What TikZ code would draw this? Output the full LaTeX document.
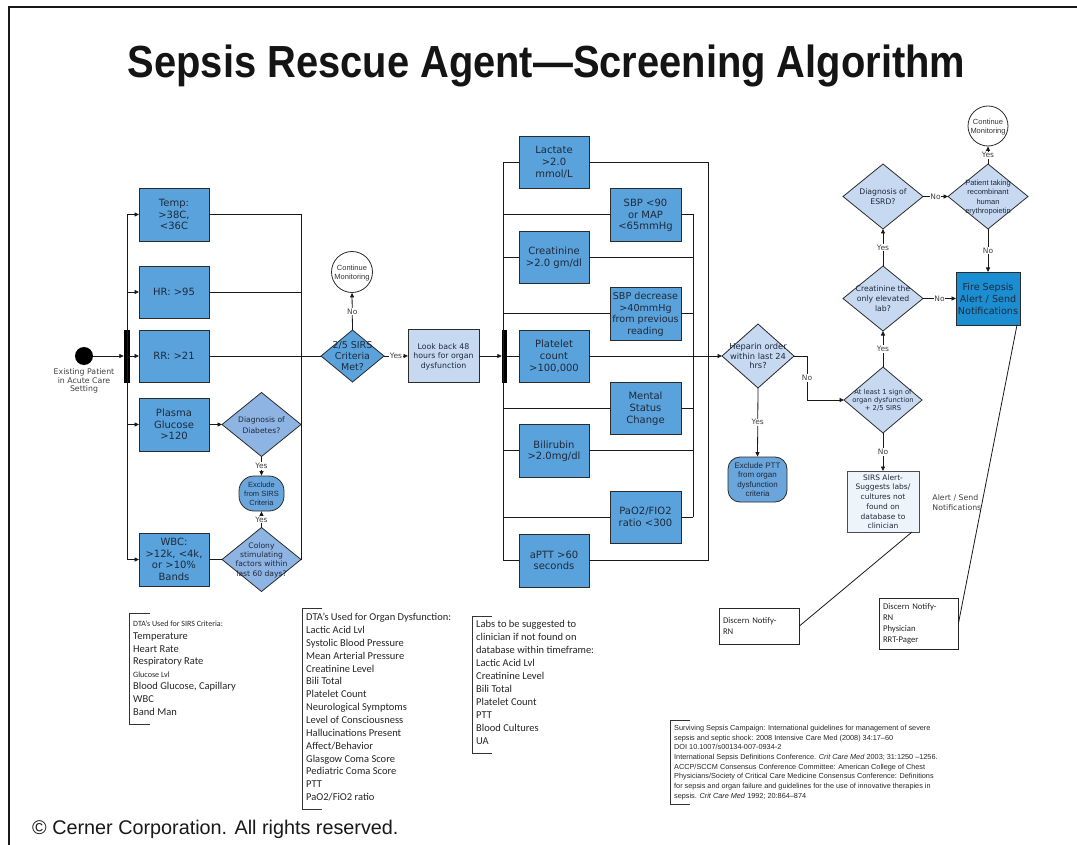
\documentclass[tikz,border=0pt]{standalone}
\usepackage{fontspec}
\usepackage{graphicx}
\setmainfont{DejaVu Sans}
\newfontfamily\dv{DejaVu Sans}
\newfontfamily\lib{Liberation Sans}
\newfontfamily\carl{Carlito}
\usetikzlibrary{shapes.geometric,arrows.meta,calc}
\definecolor{boxblue}{HTML}{5AA2DB}
\definecolor{midblue}{HTML}{8EB4E3}
\definecolor{lightblue}{HTML}{C6D9F1}
\definecolor{firebl}{HTML}{1B8ED1}
\definecolor{palebl}{HTML}{EEF4FB}
\definecolor{exclbl}{HTML}{6AA6DC}
\definecolor{txtc}{HTML}{1F2A3A}
\definecolor{edgec}{HTML}{2B2B2B}
\newcommand\ctxt[1]{\raisebox{-0.38em}[0pt][0pt]{\makebox[0pt]{\begin{tabular}{@{}c@{}}#1\end{tabular}}}}
\newcommand\fsz[2]{\fontsize{#1}{#2}\selectfont}
\begin{document}
\begin{tikzpicture}[x=1pt,y=-1pt,
  bx/.style={draw=edgec, line width=0.8pt, fill=boxblue, inner sep=0pt, outer sep=0pt, text=txtc, font={\dv\fsz{10}{11.7}}},
  dm/.style={diamond, draw=edgec, line width=0.8pt, inner sep=0pt, outer sep=0pt, text=txtc, font={\dv\fsz{7.6}{9.5}}},
  ln/.style={draw=black!90, line width=0.8pt},
  arr/.style={ln, -{Triangle[length=4.5pt,width=4pt]}},
  lbl/.style={font={\dv\fsz{7.5}{9}}, text=black!75, fill=white, inner sep=0.8pt},
  brk/.style={draw=black!80, line width=0.8pt},
  circ/.style={circle, draw=edgec, line width=0.8pt, fill=white, inner sep=0pt, font={\lib\fsz{7.5}{9.5}}, text=black!80}
]
\useasboundingbox (0,0) rectangle (1077,845);
\fill[white] (0,0) rectangle (1077,845);
% frame
\draw[line width=2pt, black!90] (9,846) -- (9,7) -- (1078,7);
% title
\node[anchor=base, inner sep=0pt, font={\lib\bfseries\fsz{45}{50}}, text=black!92] (title) at (546.5,78) {\scalebox{0.886}[1]{Sepsis Rescue Agent—Screening Algorithm}};
\node[anchor=base west, inner sep=0pt, font={\lib\fsz{19.8}{22}}, text=black!90] (copy) at (32,834) {© Cerner Corporation. All rights reserved.};

% ---------- SIRS section
\node[circle, fill=black, minimum size=18pt, inner sep=0pt] (start) at (84,356) {};
\node[font={\dv\fsz{7.8}{8.7}}, text=black!75, align=center, inner sep=0pt] (startlbl) at (84,381) {Existing Patient\\in Acute Care\\Setting};
\node[fill=black, minimum width=6pt, minimum height=53pt, inner sep=0pt] (bar1) at (127,356) {};

\node[bx, minimum width=70pt, minimum height=53pt] (temp) at (174,214.5) {\ctxt{Temp:\\>38C,\\<36C}};
\node[bx, minimum width=70pt, minimum height=52pt] (hr) at (174,292) {\ctxt{HR: >95}};
\node[bx, minimum width=70pt, minimum height=52pt] (rr) at (174,356) {\ctxt{RR: >21}};
\node[bx, minimum width=70pt, minimum height=53pt] (plasma) at (174,424.5) {\ctxt{Plasma\\Glucose\\>120}};
\node[bx, minimum width=70pt, minimum height=53pt] (wbc) at (174,559.5) {\ctxt{WBC:\\>12k, <4k,\\or >10\%\\Bands}};

\node[dm, fill=midblue, minimum width=79pt, minimum height=64pt, font={\dv\fsz{7.6}{11}}] (diab) at (261.5,424.5) {\ctxt{Diagnosis of\\Diabetes?}};
\node[dm, fill=midblue, minimum width=79pt, minimum height=64pt, font={\dv\fsz{7.6}{9.3}}] (colony) at (261.5,559.5) {\ctxt{Colony\\stimulating\\factors within\\last 60 days?}};
\node[draw=edgec, line width=0.8pt, fill=exclbl, rounded corners=15pt, minimum width=45pt, minimum height=35pt, inner sep=0pt, font={\lib\fsz{7.5}{9.2}}, text=txtc] (excl1) at (261.5,493.5) {\ctxt{Exclude\\from SIRS\\Criteria}};

\node[dm, fill=boxblue, minimum width=63pt, minimum height=52pt, font={\dv\fsz{9.5}{11.3}}] (sirs) at (352.5,356) {\ctxt{2/5 SIRS\\Criteria\\Met?}};
\node[circ, minimum size=41pt] (cont1) at (352,272) {\ctxt{Continue\\Monitoring}};
\node[bx, fill=lightblue, minimum width=71pt, minimum height=53pt, font={\dv\fsz{7.8}{9.7}}] (look) at (443.5,356) {\ctxt{Look back 48\\hours for organ\\dysfunction}};
\node[fill=black, minimum width=5pt, minimum height=53pt, inner sep=0pt] (bar2) at (504.5,356) {};

\draw[arr] (start) -- (start -| bar1.west);
\draw[ln] (bar1.center |- temp.west) -- (bar1.center |- wbc.west);
\foreach \n in {temp,hr,rr,plasma,wbc} \draw[arr] (bar1.center |- \n.west) -- (\n.west);
\coordinate (vr) at (301,356);
\draw[ln] (vr |- temp.east) -- (vr |- wbc.east);
\draw[ln] (temp.east) -- (temp.east -| vr);
\draw[ln] (hr.east) -- (hr.east -| vr);
\draw[ln] (rr.east) -- (sirs.west);
\draw[arr] (plasma.east) -- (diab.west);
\draw[ln] (wbc.east) -- (colony.west);
\draw[arr] (diab.south) -- node[lbl]{Yes} (excl1.north);
\draw[arr] (colony.north) -- node[lbl]{Yes} (excl1.south);
\draw[arr] (sirs.north) -- node[lbl]{No} (cont1.south);
\draw[arr] (sirs.east) -- node[lbl]{Yes} (look.west);
\draw[arr] (look.east) -- (look.east -| bar2.west);

% ---------- organ dysfunction section
\node[bx, minimum width=70pt, minimum height=52pt] (lact) at (554,162) {\ctxt{Lactate\\>2.0\\mmol/L}};
\node[bx, minimum width=70pt, minimum height=52pt] (creat) at (554,257) {\ctxt{Creatinine\\>2.0 gm/dl}};
\node[bx, minimum width=70pt, minimum height=52pt] (plt) at (554,356) {\ctxt{Platelet\\count\\>100,000}};
\node[bx, minimum width=70pt, minimum height=53pt] (bili) at (554,450.5) {\ctxt{Bilirubin\\>2.0mg/dl}};
\node[bx, minimum width=70pt, minimum height=53pt] (aptt) at (554,560.5) {\ctxt{aPTT >60\\seconds}};
\node[bx, minimum width=71pt, minimum height=53pt] (sbp1) at (645.5,214.5) {\ctxt{SBP <90\\or MAP\\<65mmHg}};
\node[bx, minimum width=71pt, minimum height=53pt, font={\dv\fsz{9.6}{11.7}}] (sbp2) at (645.5,313.5) {\ctxt{SBP decrease\\>40mmHg\\from previous\\reading}};
\node[bx, minimum width=71pt, minimum height=52pt] (ment) at (645.5,408) {\ctxt{Mental\\Status\\Change}};
\node[bx, minimum width=71pt, minimum height=52pt] (pao) at (645.5,517) {\ctxt{PaO2/FIO2\\ratio <300}};

\coordinate (vl) at (503,356);
\coordinate (vi) at (693,356);
\coordinate (vo) at (708,356);
\draw[ln] (vl |- lact.west) -- (vl |- aptt.west);
\foreach \n in {lact,creat,bili,aptt,sbp1,sbp2,ment,pao} \draw[ln] (vl |- \n.west) -- (\n.west);
\draw[ln] (bar2.east |- plt.west) -- (plt.west);
\draw[ln] (vi |- sbp1.east) -- (vi |- pao.east);
\foreach \n in {creat,bili,sbp1,sbp2,ment,pao} \draw[ln] (\n.east) -- (\n.east -| vi);
\draw[ln] (vo |- lact.east) -- (vo |- aptt.east);
\draw[ln] (lact.east) -- (lact.east -| vo);
\draw[ln] (aptt.east) -- (aptt.east -| vo);

% ---------- decision section
\node[dm, fill=lightblue, minimum width=72pt, minimum height=64pt, font={\dv\fsz{8.3}{9.5}}] (hep) at (758,356) {\ctxt{Heparin order\\within last 24\\hrs?}};
\node[draw=edgec, line width=0.8pt, fill=exclbl, rounded corners=12pt, minimum width=59pt, minimum height=45pt, inner sep=0pt, font={\lib\fsz{8}{9.5}}, text=txtc] (exptt) at (757.5,479.5) {\ctxt{Exclude PTT\\from organ\\dysfunction\\criteria}};
\node[dm, fill=lightblue, minimum width=78pt, minimum height=66pt, font={\dv\fsz{6.8}{7.8}}] (atl) at (883,400) {\ctxt{At least 1 sign of\\organ dysfunction\\+ 2/5 SIRS}};
\node[bx, fill=palebl, draw=black!70, minimum width=72pt, minimum height=61pt, font={\dv\fsz{7.5}{9.7}}] (sirsal) at (883,501.5) {\ctxt{SIRS Alert-\\Suggests labs/\\cultures not\\found on\\database to\\clinician}};
\node[dm, fill=lightblue, minimum width=80pt, minimum height=65pt, font={\dv\fsz{7.7}{9.7}}] (crl) at (883,298.5) {\ctxt{Creatinine the\\only elevated\\lab?}};
\node[dm, fill=lightblue, minimum width=80pt, minimum height=65pt, font={\dv\fsz{7.7}{10.7}}] (esrd) at (883,196.5) {\ctxt{Diagnosis of\\ESRD?}};
\node[dm, fill=lightblue, minimum width=80pt, minimum height=65pt, font={\lib\fsz{7.5}{9.5}}] (pat) at (988,196.5) {\ctxt{Patient taking\\recombinant\\human\\erythropoietin}};
\node[circ, minimum size=40pt] (cont2) at (988,126) {\ctxt{Continue\\Monitoring}};
\node[bx, fill=firebl, minimum width=64pt, minimum height=53pt, font={\dv\fsz{9.6}{12}}] (fire) at (988,298.5) {\ctxt{Fire Sepsis\\Alert / Send\\Notifications}};

\draw[arr] (plt.east) -- (hep.west);
\draw[arr] (hep.east) -- ++(13,0) |- node[lbl,pos=0.25]{No} (atl.west);
\draw[arr] (hep.south) -- node[lbl]{Yes} (exptt.north);
\draw[arr] (atl.north) -- node[lbl]{Yes} (crl.south);
\draw[arr] (atl.south) -- node[lbl]{No} (sirsal.north);
\draw[arr] (crl.north) -- node[lbl]{Yes} (esrd.south);
\draw[arr] (crl.east) -- node[lbl]{No} (fire.west);
\draw[arr] (esrd.east) -- node[lbl]{No} (pat.west);
\draw[arr] (pat.north) -- node[lbl]{Yes} (cont2.south);
\draw[arr] (pat.south) -- node[lbl]{No} (fire.north);

% discern boxes
\node[draw=black!85, line width=0.8pt, fill=white, text width=72pt, inner sep=4pt, minimum height=36pt, align=left, font={\carl\fsz{8.7}{10.7}}, text=black!85] (disc1) at (759,626) {Discern Notify-\\RN};
\node[draw=black!85, line width=0.8pt, fill=white, text width=71pt, inner sep=4pt, minimum height=51pt, align=left, font={\carl\fsz{8.7}{10.9}}, text=black!85] (disc2) at (918.5,623.5) {Discern Notify-\\RN\\Physician\\RRT-Pager};
\draw[ln] ($(fire.south east)+(-3,0)$) -- node[pos=0.594, anchor=east, inner sep=0.5pt, align=left, font={\dv\fsz{7.8}{10}}, text=black!75]{Alert / Send\\Notifications} (disc2.east);
\draw[ln] ($(sirsal.south east)+(-7,0)$) -- (disc1.east);

% ---------- notes
\draw[brk] (150,613) -- (129,613) -- (129,724) -- (150,724);
\node[anchor=north west, inner sep=0pt, align=left, font={\carl\fsz{10.5}{12.6}}, text=black!85] (notes1) at (133,621) {{\fsz{8}{12.6}DTA’s Used for SIRS Criteria:}\\Temperature\\Heart Rate\\Respiratory Rate\\{\fsz{8.1}{12.6}Glucose Lvl}\\Blood Glucose, Capillary\\WBC\\Band Man};

\draw[brk] (322,608) -- (302,608) -- (302,809) -- (322,809);
\node[anchor=north west, inner sep=0pt, align=left, font={\carl\fsz{10.5}{12.86}}, text=black!85] (notes2) at (306,613) {DTA’s Used for Organ Dysfunction:\\Lactic Acid Lvl\\Systolic Blood Pressure\\Mean Arterial Pressure\\Creatinine Level\\Bili Total\\Platelet Count\\Neurological Symptoms\\Level of Consciousness\\Hallucinations Present\\Affect/Behavior\\Glasgow Coma Score\\Pediatric Coma Score\\PTT\\PaO2/FiO2 ratio};

\draw[brk] (492,616) -- (472,616) -- (472,753) -- (492,753);
\node[anchor=north west, inner sep=0pt, align=left, font={\carl\fsz{10.5}{13}}, text=black!85] (notes3) at (476,620) {Labs to be suggested to\\clinician if not found on\\database within timeframe:\\Lactic Acid Lvl\\Creatinine Level\\Bili Total\\Platelet Count\\PTT\\Blood Cultures\\UA};

\draw[brk] (690,720) -- (670,720) -- (670,804) -- (690,804);
\node[anchor=north west, inner sep=0pt, align=left, font={\lib\fsz{7.3}{9.7}}, text=black!85] (refs) at (674,725) {Surviving Sepsis Campaign: International guidelines for management of severe\\sepsis and septic shock: 2008 Intensive Care Med (2008) 34:17–60\\DOI 10.1007/s00134-007-0934-2\\International Sepsis Definitions Conference. \textit{Crit Care Med} 2003; 31:1250 –1256.\\ACCP/SCCM Consensus Conference Committee: American College of Chest\\Physicians/Society of Critical Care Medicine Consensus Conference: Definitions\\for sepsis and organ failure and guidelines for the use of innovative therapies in\\sepsis. \textit{Crit Care Med} 1992; 20:864–874};
\end{tikzpicture}
\end{document}
